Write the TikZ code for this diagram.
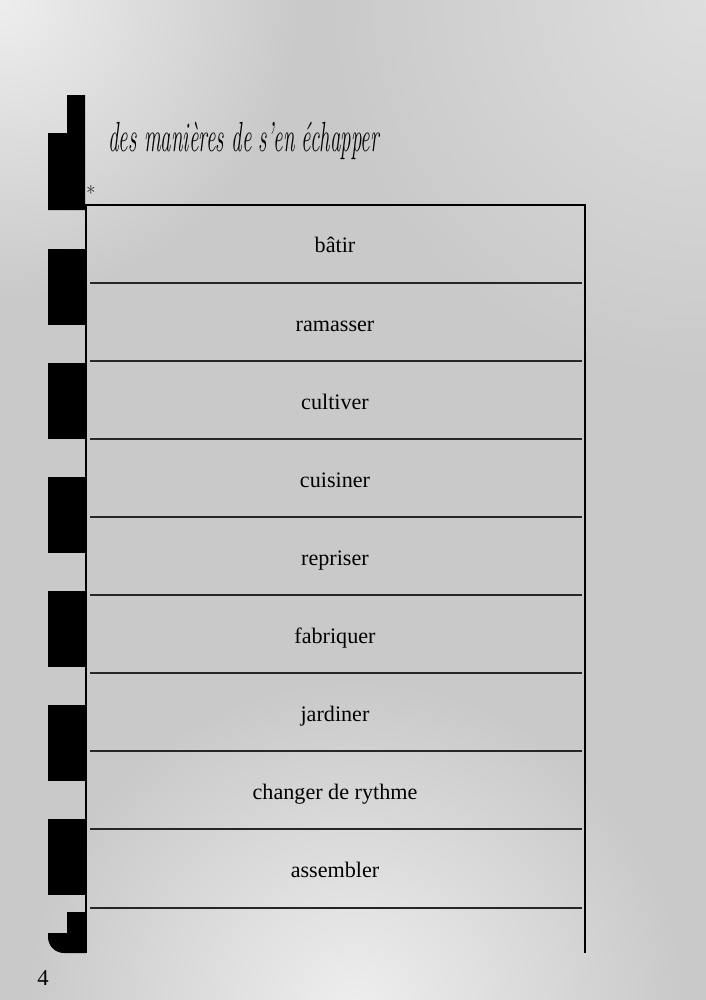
\documentclass[tikz,border=0pt]{standalone}
\usepackage{fontspec}
\usepackage{graphicx}
\newfontfamily\rowfont{Liberation Serif}
\definecolor{bg}{RGB}{201,201,201}
\definecolor{bglight}{RGB}{238,238,238}
\definecolor{bgtop}{RGB}{222,222,222}
\tikzset{
  blk/.style={fill=black, draw=none},
  rule/.style={line width=1.6pt, draw=black!85},
  frame/.style={line width=1.1pt, draw=black},
  rowlabel/.style={font=\rowfont\fontsize{16.6}{19}\selectfont, inner sep=0pt, anchor=base},
}
\begin{document}
\begin{tikzpicture}[x=0.75pt, y=-0.75pt]
\useasboundingbox (0,0) rectangle (706,1000);
% background
\fill[bg] (0,0) rectangle (706,1000);
\begin{scope}
\clip (0,0) rectangle (706,1000);
\shade[inner color=bglight, outer color=bg] (0,0) circle (300);
\shade[inner color=bgtop, outer color=bg] (706,0) circle (380);
\shade[inner color=bglight, outer color=bg] (355,1010) circle (330);
\end{scope}
% left black stripe
\fill[blk] (67,95) -- (85,95) -- (85,210) -- (48,210) -- (48,133) -- (67,133) -- cycle;
\foreach \t in {249,363,477,591,705,819}{
  \fill[blk] (48,\t) rectangle (85,\t+76);
}
\fill[blk] (67,912) -- (86,912) -- (86,953) -- (64,953)
  arc[start angle=90, end angle=180, radius=16] -- (48,933) -- (67,933) -- cycle;
% table frame
\coordinate (tl) at (86,205);
\coordinate (tr) at (585,205);
\coordinate (bl) at (86,953);
\coordinate (br) at (585,953);
\draw[frame] (bl) -- (tl) -- (tr) -- (br);
% row separators
\foreach \y in {283,361,439,517,595,673,751,829,908}{
  \draw[rule] (90,\y) -- (582,\y);
}
% labels
\node[rowlabel] (r1) at (335,252) {bâtir};
\node[rowlabel] (r2) at (335,331) {ramasser};
\node[rowlabel] (r3) at (335,409) {cultiver};
\node[rowlabel] (r4) at (335,487) {cuisiner};
\node[rowlabel] (r5) at (335,565) {repriser};
\node[rowlabel] (r6) at (335,643) {fabriquer};
\node[rowlabel] (r7) at (335,721) {jardiner};
\node[rowlabel] (r8) at (335,799) {changer de rythme};
\node[rowlabel] (r9) at (335,877) {assembler};
% title
\node[anchor=base west, inner sep=0pt] (title) at (108,151)
  {\resizebox{203pt}{22pt}{\fontsize{18}{20}\selectfont\itshape des manières de s’en échapper}};
\node[anchor=center, inner sep=0pt, font=\fontsize{15}{16}\selectfont] (ast) at (91,193) {*};
\node[anchor=base west, inner sep=0pt, font=\rowfont\fontsize{17}{18}\selectfont] (pg) at (37,985) {4};
\end{tikzpicture}
\end{document}
